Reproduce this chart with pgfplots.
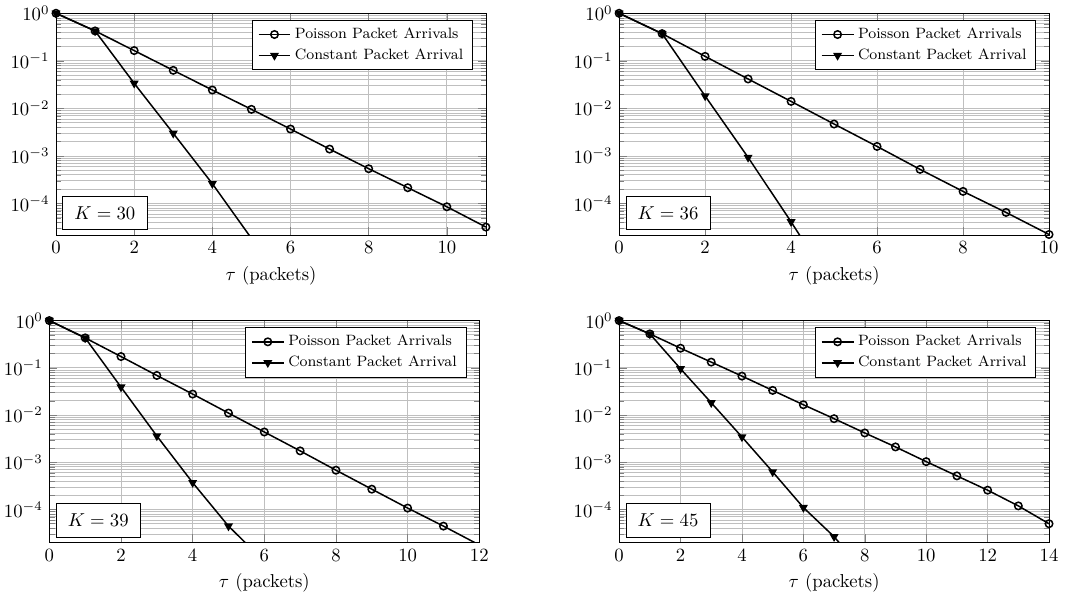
\documentclass[border=0pt]{standalone}
\usepackage{pgfplots}
\pgfplotsset{compat=1.18}
\tikzset{
  mypoi/.style={black, thick, mark=o, mark size=2pt, mark options={solid}},
  mycon/.style={black, thick, mark=triangle*, mark size=2pt, mark options={rotate=180, solid}},
  kbox/.style={draw, fill=white, anchor=south west, minimum height=18pt, minimum width=45pt, inner xsep=4.4pt, inner ysep=3pt},
}
\begin{document}
\begin{tikzpicture}
\path[use as bounding box] (0,0) rectangle (578.3pt,318.9pt);
% top left K=30
\begin{axis}[ymode=log, scale only axis=true, width=230pt, height=118.7pt,
  ymax=1, xmin=0, grid=both, xlabel={$\tau$ (packets)},
  legend pos=north east, legend cell align=left, legend style={font=\footnotesize},
  at={(29.96pt,193.1pt)}, anchor=south west,
  xmax=11, xtick={0,2,...,10}, ymin=2.15e-5]
\addplot[mypoi] coordinates {(0,1) (1,0.425) (2,0.164) (3,0.063) (4,0.0243) (5,0.00953) (6,0.00367) (7,0.00139) (8,5.37e-4) (9,2.14e-4) (10,8.5e-5) (11,3.18e-5)};
\addplot[mycon] coordinates {(0,1) (1,0.425) (2,0.0336) (3,0.00298) (4,2.6e-4) (5,1.84e-5)};
\legend{Poisson Packet Arrivals, Constant Packet Arrival}
\node[kbox] at (rel axis cs:0.015,0.0225) {$K=30$\hspace{3pt}};
\end{axis}
% top right K=36
\begin{axis}[ymode=log, scale only axis=true, width=230pt, height=118.7pt,
  ymax=1, xmin=0, grid=both, xlabel={$\tau$ (packets)},
  legend pos=north east, legend cell align=left, legend style={font=\footnotesize},
  at={(331.2pt,193.1pt)}, anchor=south west,
  xmax=10, xtick={0,2,...,10}, ymin=2.15e-5]
\addplot[mypoi] coordinates {(0,1) (1,0.373) (2,0.124) (3,0.0415) (4,0.0140) (5,0.00468) (6,0.00158) (7,5.2e-4) (8,1.79e-4) (9,6.46e-5) (10,2.22e-5)};
\addplot[mycon] coordinates {(0,1) (1,0.373) (2,0.0182) (3,9.3e-4) (4,4.1e-5) (5,1.6e-6)};
\legend{Poisson Packet Arrivals, Constant Packet Arrival}
\node[kbox] at (rel axis cs:0.015,0.0225) {$K=36$\hspace{3pt}};
\end{axis}
% bottom left K=39
\begin{axis}[ymode=log, scale only axis=true, width=230pt, height=118.7pt,
  ymax=1, xmin=0, grid=both, xlabel={$\tau$ (packets)},
  legend pos=north east, legend cell align=left, legend style={font=\footnotesize},
  at={(26.4pt,28.7pt)}, anchor=south west,
  xmax=12, xtick={0,2,...,12}, ymin=2e-5]
\addplot[mypoi] coordinates {(0,1) (1,0.43) (2,0.173) (3,0.0689) (4,0.0278) (5,0.011) (6,0.00437) (7,0.00174) (8,6.78e-4) (9,2.69e-4) (10,1.07e-4) (11,4.44e-5) (12,1.77e-5)};
\addplot[mycon] coordinates {(0,1) (1,0.43) (2,0.039) (3,0.0036) (4,3.7e-4) (5,4.44e-5) (6,8e-6)};
\legend{Poisson Packet Arrivals, Constant Packet Arrival}
\node[kbox] at (rel axis cs:0.015,0.0225) {$K=39$\hspace{3pt}};
\end{axis}
% bottom right K=45
\begin{axis}[ymode=log, scale only axis=true, width=230pt, height=118.7pt,
  ymax=1, xmin=0, grid=both, xlabel={$\tau$ (packets)},
  legend pos=north east, legend cell align=left, legend style={font=\footnotesize},
  at={(331.2pt,28.7pt)}, anchor=south west,
  xmax=14, xtick={0,2,...,14}, ymin=2e-5]
\addplot[mypoi] coordinates {(0,1) (1,0.523) (2,0.26) (3,0.132) (4,0.0667) (5,0.0332) (6,0.0165) (7,0.00837) (8,0.00417) (9,0.00211) (10,0.00103) (11,5.14e-4) (12,2.56e-4) (13,1.19e-4) (14,4.98e-5)};
\addplot[mycon] coordinates {(0,1) (1,0.523) (2,0.0953) (3,0.0182) (4,0.00343) (5,6.25e-4) (6,1.1e-4) (7,2.65e-5) (8,4.7e-6)};
\legend{Poisson Packet Arrivals, Constant Packet Arrival}
\node[kbox] at (rel axis cs:0.015,0.0225) {$K=45$\hspace{3pt}};
\end{axis}
\end{tikzpicture}
\end{document}
